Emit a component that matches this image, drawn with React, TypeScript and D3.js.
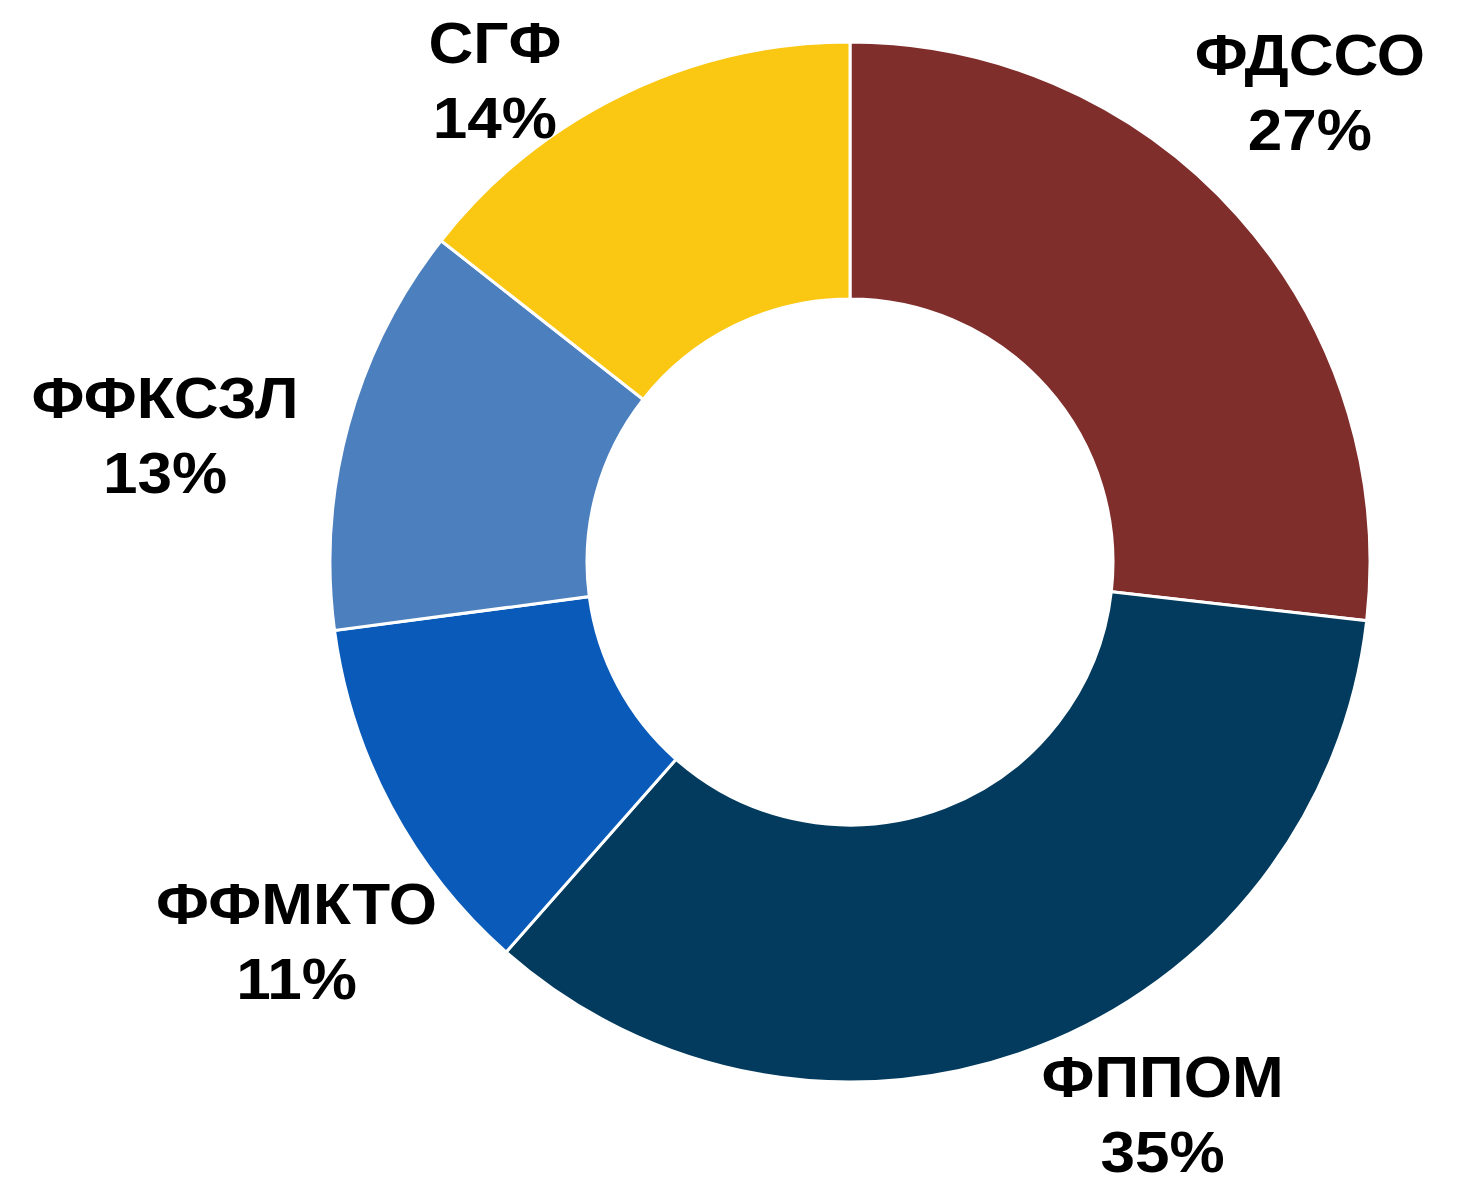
import React from "react";
import * as d3 from "d3";

const categories = ["ФДССО", "ФППОМ", "ФФМКТО", "ФФКСЗЛ", "СГФ"];
const values = [26.8, 34.7, 11.4, 12.7, 14.4];
const colors = ["#7F2E2C", "#033B5E", "#0A5BB9", "#4C7FBD", "#FAC712"];
// label nudges (layout only) relative to the label arc point at each slice's mid angle
const labelNudgeX = [-25, 79, 20, -58, -71];
const labelNudgeY = [-17, -34, 94, 65, 123];

const W = 1468;
const H = 1177;
const CX = 850;
const CY = 562;
const R_OUT = 520;
const R_IN = 263;
const R_LABEL = 650;

export default function App() {
  const pie = d3
    .pie<number>()
    .sort(null)
    .value((d) => d);
  const arcs = pie(values);
  const arc = d3.arc<d3.PieArcDatum<number>>().innerRadius(R_IN).outerRadius(R_OUT);
  const fmt = (v: number) => `${Math.round(v)}%`;
  const fontSize = 58;
  const lineGap = 75;
  const stretch = 1.07;

  return (
    <svg
      width={W}
      height={H}
      style={{ position: "absolute", left: 0, top: 0, background: "#fff" }}
      fontFamily="'Liberation Sans', Arial, sans-serif"
    >
      <g transform={`translate(${CX},${CY})`}>
        {arcs.map((d, i) => (
          <path key={categories[i]} d={arc(d) || ""} fill={colors[i]} stroke="#fff" strokeWidth={3} />
        ))}
        {arcs.map((d, i) => {
          const a = (d.startAngle + d.endAngle) / 2;
          const x = R_LABEL * Math.sin(a) + labelNudgeX[i];
          const y = -R_LABEL * Math.cos(a) + labelNudgeY[i];
          return (
            <text
              key={"l" + i}
              transform={`translate(${x},${y}) scale(${stretch},1)`}
              textAnchor="middle"
              fontWeight="bold"
              fontSize={fontSize}
              fill="#000"
            >
              <tspan x={0} y={-lineGap / 2}>
                {categories[i]}
              </tspan>
              <tspan x={0} y={lineGap / 2}>
                {fmt(values[i])}
              </tspan>
            </text>
          );
        })}
      </g>
    </svg>
  );
}
